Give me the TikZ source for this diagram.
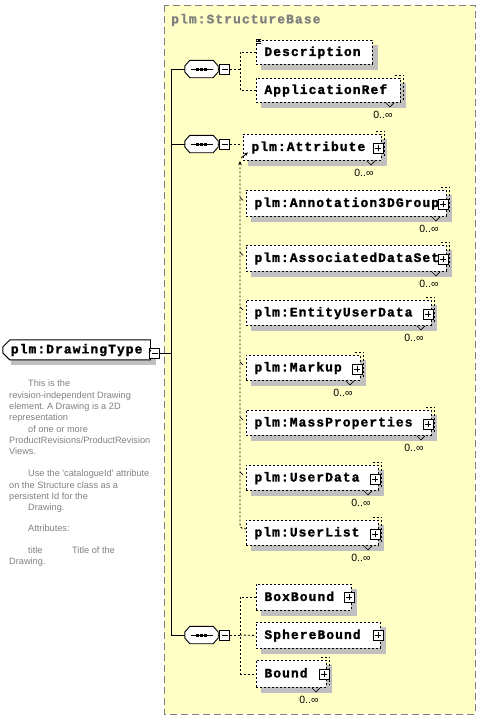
\documentclass[tikz,border=0pt]{standalone}
\usepackage{fontspec}
\usetikzlibrary{shapes.misc,arrows.meta}
\newfontfamily\elfont{Liberation Mono}[LetterSpace=8,FakeBold=1.4]
\newfontfamily\docfont{Liberation Sans}[Ligatures=TeXOff]
\definecolor{yel}{HTML}{FFFFC6}
\definecolor{shgray}{HTML}{C0C0C0}
\definecolor{bordgray}{HTML}{808080}
\definecolor{docgray}{HTML}{808080}
\pgfdeclarelayer{back}
\pgfdeclarelayer{bg}
\pgfsetlayers{back,bg,main}
\tikzset{
  elem/.style={draw, line width=0.9pt, dash pattern=on 2pt off 2pt, fill=white, anchor=north west,
    inner xsep=8pt, inner ysep=0pt, align=left, text height=10pt, text depth=3pt,
    font=\elfont\bfseries\fontsize{13}{15}\selectfont},
  dl/.style={line width=0.9pt, dash pattern=on 2pt off 2pt},
  sl/.style={line width=0.9pt},
  plusbox/.style={draw, solid, line width=0.8pt, fill=white, minimum size=10pt, inner sep=0pt,
    path picture={\draw[line width=0.8pt] ([xshift=-3pt]path picture bounding box.center) -- ([xshift=3pt]path picture bounding box.center)
      ([yshift=-3pt]path picture bounding box.center) -- ([yshift=3pt]path picture bounding box.center);}},
  minusbox/.style={draw, solid, line width=0.8pt, fill=white, minimum size=10pt, inner sep=0pt,
    path picture={\draw[line width=0.8pt] ([xshift=-3pt]path picture bounding box.center) -- ([xshift=3pt]path picture bounding box.center);}},
  comp/.style={rectangle, minimum width=33pt, minimum height=17pt, inner sep=0pt},
  mult/.style={font=\docfont\fontsize{10.5}{12}\selectfont, inner sep=0pt},
}
\newcommand\octpath[1]{([xshift=5pt]#1.north west) -- ([xshift=-5pt]#1.north east) -- ([yshift=3pt]#1.east) -- ([yshift=-3pt]#1.east)
  -- ([xshift=-5pt]#1.south east) -- ([xshift=5pt]#1.south west) -- ([yshift=-3pt]#1.west) -- ([yshift=3pt]#1.west) -- cycle}
\newcommand\multimark[1]{%
  \draw[dl] ([xshift=-6pt,yshift=3pt]#1.north east) -- ([xshift=3pt,yshift=3pt]#1.north east) -- ([xshift=3pt,yshift=3pt]#1.south east);
  \draw[line width=0.7pt] ([xshift=-15pt]#1.south east) -- ([xshift=-11pt,yshift=-4pt]#1.south east) -- ([xshift=-7pt]#1.south east);
  \node[mult] at ([xshift=-18pt,yshift=-12pt]#1.south east) {0..∞};}
\newcommand\shadowbox[1]{%
  \begin{pgfonlayer}{bg}\fill[shgray] ([shift={(5,5)}]#1.north west) rectangle ([shift={(5,5)}]#1.south east);\end{pgfonlayer}}
\begin{document}
\frenchspacing
\begin{tikzpicture}[x=1pt,y=-1pt]
\useasboundingbox (0,0) rectangle (480,720);
% structure base
\begin{pgfonlayer}{back}
\draw[fill=yel, draw=bordgray, line width=1pt, dash pattern=on 7pt off 4pt] (164,5) rectangle (475,714);
\end{pgfonlayer}
\node[anchor=west, inner sep=0pt, text=bordgray, font=\elfont\bfseries\fontsize{13}{15}\selectfont] (sbt) at (171,20) {plm:StructureBase};

% main element
\node[chamfered rectangle, chamfered rectangle corners={north west,south west}, chamfered rectangle xsep=4pt,
  draw, line width=0.9pt, fill=white, anchor=north west, minimum width=141pt, minimum height=20pt,
  inner xsep=4pt, inner ysep=0pt, text height=10pt, text depth=3pt,
  font=\elfont\bfseries\fontsize{13}{15}\selectfont] (main) at (6,343) {plm:DrawingType};
\shadowbox{main}
\node[minusbox] (mm) at (154.5,353) {};
\draw[sl] (main.east) -- (mm.west);

\node[anchor=north west, inner sep=0pt, align=left, text=docgray,
  font=\docfont\fontsize{9.2}{11.3}\selectfont] (doc) at (9,380) {%
\hspace*{19pt}This is the\\
revision-independent Drawing\\
element. A Drawing is a 2D\\
representation\\
\hspace*{19pt}of one or more\\
ProductRevisions/ProductRevision\\
Views.\\[11pt]
\hspace*{19pt}Use the 'catalogueId' attribute\\
on the Structure class as a\\
persistent Id for the\\
\hspace*{19pt}Drawing.\\[9pt]
\hspace*{19pt}Attributes:\\[11pt]
\hspace*{19pt}\makebox[44pt][l]{title}Title of the\\
Drawing.};

% trunk
\coordinate (ttop) at (171,69);
\coordinate (tbot) at (171,635);
\draw[sl] (ttop) -- (tbot);
\draw[sl] (mm.east) -- (mm.east -| ttop);

% compositors
\foreach \c/\y in {c1/69,c2/144,c3/635}{
  \node[comp] (\c) at (201.5,\y) {};
  \begin{pgfonlayer}{bg}\fill[shgray, shift={(3,3)}] \octpath{\c};\end{pgfonlayer}
  \draw[sl, fill=white] \octpath{\c};
  \draw[sl] ([xshift=-11pt]\c.center) -- ([xshift=11pt]\c.center);
  \foreach \dx in {-4,0,4}{\fill ([shift={(\dx,0)}]\c.center) ++(-1.5,-1.5) rectangle ++(3,3);}
  \node[minusbox] (\c-m) at (224.5,\y) {};
  \draw[sl] (\c.west -| ttop) -- (\c.west);
  \draw[sl] (\c.east) -- (\c-m.west);
}

% group 1
\node[elem, text width=100pt, minimum height=24pt] (desc) at (256,40) {Description};
\foreach \d in {-1,1,3}{\draw[line width=0.7pt] ([shift={(0,\d)}]desc.north west) -- ++(5,0);}
\node[elem, text width=128pt, minimum height=24pt] (appref) at (256,78) {ApplicationRef};
\shadowbox{desc}
\shadowbox{appref}
\multimark{appref}
\coordinate (j1) at (240,69);
\draw[dl] (c1-m.east) -- (j1);
\draw[dl] (desc.west) -| (appref.west -| j1) -- (appref.west);

% group 2
\node[elem, text width=122pt, minimum height=26pt] (attr) at (243,134) {\mbox{plm:Attribute}};
\node[elem, text width=184pt, minimum height=26pt] (annot) at (246,190) {\mbox{plm:Annotation3DGroup}};
\node[elem, text width=184pt, minimum height=26pt] (assoc) at (246,245) {\mbox{plm:AssociatedDataSet}};
\node[elem, text width=169pt, minimum height=25pt] (entity) at (246,300) {\mbox{plm:EntityUserData}};
\node[elem, text width=98pt, minimum height=25pt] (markup) at (246,355) {\mbox{plm:Markup}};
\node[elem, text width=169pt, minimum height=25pt] (mass) at (246,410) {\mbox{plm:MassProperties}};
\node[elem, text width=116pt, minimum height=25pt] (udata) at (246,465) {\mbox{plm:UserData}};
\node[elem, text width=116pt, minimum height=25pt] (ulist) at (246,520) {\mbox{plm:UserList}};
\foreach \n in {attr,annot,assoc,entity,markup,mass,udata,ulist}{
  \shadowbox{\n}
  \multimark{\n}
  \node[plusbox] (p-\n) at ([xshift=-4pt,yshift=-1pt]\n.east) {};
}
\coordinate (j2) at (240,144);
\coordinate (vt) at (240,161);
\coordinate (vb) at (240,523);
\coordinate (af) at (241,158);
\draw[dl] (c2-m.east) -- (j2);
\draw[line width=0.8pt, -{Stealth[length=4pt,width=3.5pt]}] (af) -- ([xshift=5pt,yshift=-5pt]attr.west);
\draw[dl, {Stealth[length=4pt,width=3.5pt]}-] (vt) -- (vb) .. controls (240,528) .. ([yshift=4pt]ulist.west);
\foreach \n in {annot,assoc,entity,markup,mass,udata}{
  \draw[line width=0.7pt] (\n.west -| vt) ++(0,-6) -- ++(3,3);
}

% group 3
\node[elem, text width=79pt, minimum height=26pt] (boxb) at (256,584) {BoxBound};
\node[elem, text width=108pt, minimum height=26pt] (sphere) at (256,622) {SphereBound};
\node[elem, text width=54pt, minimum height=27pt] (bound) at (256,660) {Bound};
\foreach \n in {boxb,sphere,bound}{\shadowbox{\n}}
\multimark{bound}
\foreach \n in {boxb,sphere,bound}{
  \node[plusbox] (p-\n) at ([xshift=-3pt]\n.east) {};
}
\coordinate (j3) at (240,635);
\draw[dl] (c3-m.east) -- (j3);
\draw[dl] (boxb.west) -| (bound.west -| j3) -- (bound.west);
\draw[dl] (j3) -- (sphere.west);
\end{tikzpicture}
\end{document}
